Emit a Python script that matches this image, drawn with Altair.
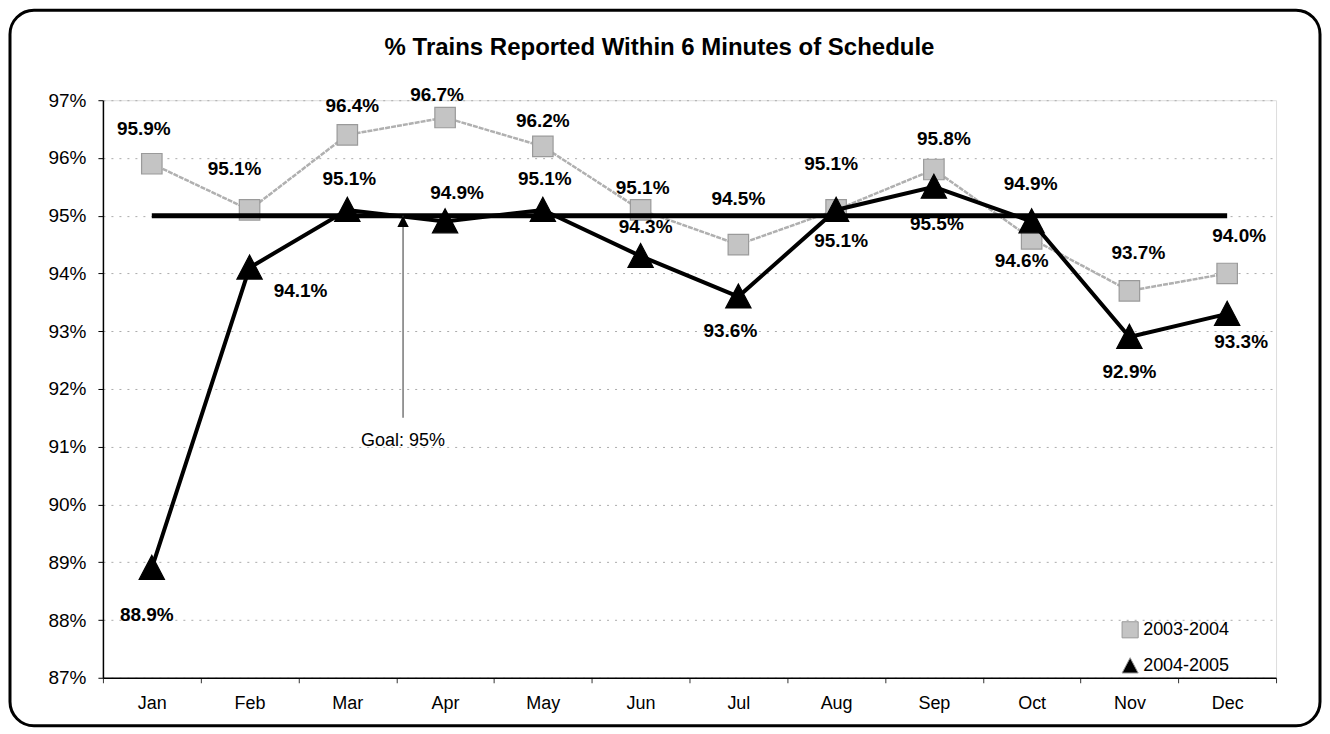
import altair as alt
import pandas as pd

title_text = "% Trains Reported Within 6 Minutes of Schedule"
months = ["Jan", "Feb", "Mar", "Apr", "May", "Jun", "Jul", "Aug", "Sep", "Oct", "Nov", "Dec"]
series_names = ["2003-2004", "2004-2005"]
values_2003 = [95.9, 95.1, 96.4, 96.7, 96.2, 95.1, 94.5, 95.1, 95.8, 94.6, 93.7, 94.0]
values_2004 = [88.9, 94.1, 95.1, 94.9, 95.1, 94.3, 93.6, 95.1, 95.5, 94.9, 92.9, 93.3]
goal_values = [95, 95, 95, 95, 95, 95, 95, 95, 95, 95, 95, 95]
y_ticks = [87, 88, 89, 90, 91, 92, 93, 94, 95, 96, 97]

goal_label = "Goal: 95%"
goal_label_month = "Apr"
goal_arrow_top = 95
goal_arrow_bottom = 91.5
goal_label_y = 91.1

# data-label offsets (pixels) relative to each point
dx_2003 = [-8, -15, 5, -8, 0, 2, 0, -5, 10, -10, 9, 12]
dy_2003 = [-35, -41, -29, -23, -25, -22, -46, -46, -31, 22, -38, -37]
dx_2004 = [-5, 51, 2, 12, 2, 5, -8, 5, 3, -1, 0, 14]
dy_2004 = [47, 23, -31, -29, -31, -29, 34, 31, 37, -38, 35, 28]

FONT = "Liberation Sans"

rows = []
for name, vals, dxs, dys in [("2003-2004", values_2003, dx_2003, dy_2003),
                             ("2004-2005", values_2004, dx_2004, dy_2004)]:
    for m, v, ddx, ddy in zip(months, vals, dxs, dys):
        rows.append({"month": m, "series": name, "value": v,
                     "label": f"{v:.1f}%", "ldx": ddx, "ldy": ddy})
df = pd.DataFrame(rows)
goal_df = pd.DataFrame({"month": months, "value": goal_values})
arrow_df = pd.DataFrame({"month": [goal_label_month], "value": [goal_arrow_top],
                         "value2": [goal_arrow_bottom]})
ann_text_df = pd.DataFrame({"month": [goal_label_month], "value": [goal_label_y],
                            "text": [goal_label]})
title_df = pd.DataFrame({"title": [title_text]})

x_scale = alt.Scale(domain=months, paddingInner=0, paddingOuter=0)
x_axis = alt.Axis(title=None, labelAngle=0, tickBand="extent", labelFontSize=18,
                  labelPadding=12, tickSize=5, domainColor="black", tickColor="#333",
                  labelColor="black", grid=False, labelFont=FONT, domainWidth=1.5)
y_scale = alt.Scale(domain=[87, 97], nice=False, zero=False)
y_axis = alt.Axis(title=None, values=y_ticks, labelExpr="datum.value + '%'",
                  labelFontSize=19, labelPadding=12, tickSize=5, domainColor="black",
                  tickColor="black", labelColor="black", grid=True, gridColor="#ababab",
                  gridDash=[2, 6], gridWidth=1, labelFont=FONT, domainWidth=1.5)

X = alt.X("month:N", sort=months, scale=x_scale, axis=x_axis)
Y = alt.Y("value:Q", scale=y_scale, axis=y_axis)

color_scale = alt.Scale(domain=series_names, range=["#c4c4c4", "#000000"])
shape_scale = alt.Scale(domain=series_names, range=["square", "M0,-1L1,0.9L-1,0.9Z"])

border = alt.Chart(title_df).mark_rect(
    fill="transparent", stroke="black", strokeWidth=3, cornerRadius=24
).encode(x=alt.value(-93), x2=alt.value(1218), y=alt.value(-90), y2=alt.value(626))

title = alt.Chart(title_df).mark_text(
    fontSize=24, font=FONT, fontWeight="bold", color="black", baseline="middle", align="center"
).encode(x=alt.value(557), y=alt.value(-52), text="title:N")

def line_layer(name, width, col, dash=None):
    kw = dict(color=col, strokeWidth=width)
    if dash:
        kw["strokeDash"] = dash
    return alt.Chart(df).transform_filter(alt.datum.series == name).mark_line(
        **kw).encode(x=X, y=Y)

gray_line = line_layer("2003-2004", 2.5, "#b0b0b0", [5, 1])
black_line = line_layer("2004-2005", 4, "black")

def point_layer(name, size, legend, stroke):
    return alt.Chart(df).transform_filter(alt.datum.series == name).mark_point(
        filled=True, opacity=1, strokeWidth=1.2, stroke=stroke).encode(
        x=X, y=Y,
        color=alt.Color("series:N", scale=color_scale, legend=legend),
        shape=alt.Shape("series:N", scale=shape_scale, legend=legend),
        size=alt.value(size))

leg = alt.Legend(title=None, orient="none", legendX=1019, legendY=521,
                 labelFontSize=18, labelFont=FONT, symbolSize=260,
                 rowPadding=14, labelColor="black", symbolStrokeWidth=1)
gray_points = point_layer("2003-2004", 420, leg, "#9a9a9a")
black_points = point_layer("2004-2005", 640, leg, "black")

goal_line = alt.Chart(goal_df).mark_line(color="black", strokeWidth=5).encode(x=X, y=Y)

Xa = alt.X("month:N", sort=months, scale=x_scale, axis=x_axis, bandPosition=0.07)
ann_rule = alt.Chart(arrow_df).mark_rule(color="#555", strokeWidth=1.2).encode(
    x=Xa, y=Y, y2="value2:Q")
ann_arrow = alt.Chart(arrow_df).mark_point(
    shape="M0,0L0.5,1L-0.5,1Z", filled=True, color="black", opacity=1, size=520
).encode(x=Xa, y=Y)
ann_text = alt.Chart(ann_text_df).mark_text(
    fontSize=18, font=FONT, color="black", baseline="middle"
).encode(x=Xa, y=Y, text="text:N")

labels = alt.Chart(df).mark_text(
    fontSize=19, font=FONT, fontWeight="bold", color="black", baseline="middle",
    dx=alt.expr("datum.ldx"), dy=alt.expr("datum.ldy")
).encode(x=X, y=Y, text="label:N")

chart = alt.layer(
    border, title, gray_line, gray_points, goal_line, black_line, black_points,
    ann_rule, ann_arrow, ann_text, labels
).properties(
    width=1174, height=578,
    padding={"left": 0, "top": 0, "right": 0, "bottom": 0},
).configure_view(stroke="#777", strokeWidth=1.2).configure(font=FONT, background="white")

chart.save("out.html", embed_options={"renderer": "svg", "actions": False})
